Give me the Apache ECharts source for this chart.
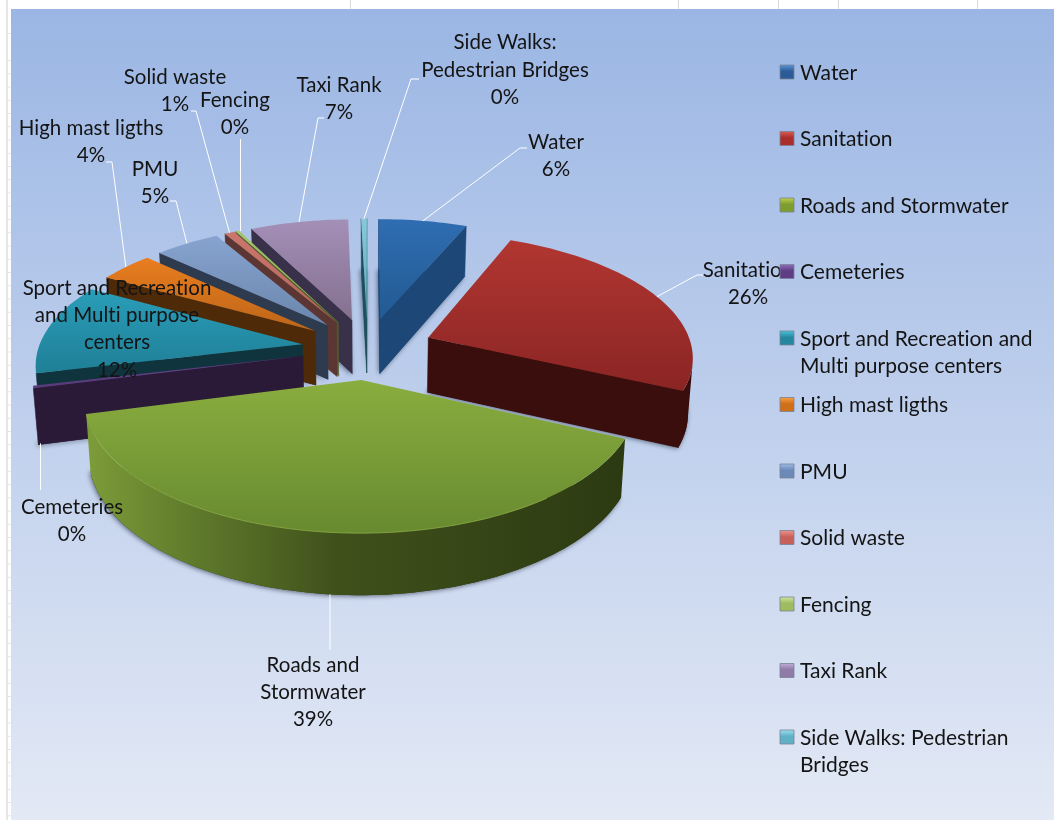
<!DOCTYPE html>
<html>
<head>
<meta charset="utf-8">
<style>html,body{margin:0;padding:0;background:#fff}#chart{width:1054px;height:820px}</style>
<script src="https://cdn.jsdelivr.net/npm/echarts@6/dist/echarts.min.js"></script>
</head>
<body>
<div id="chart"></div>
<script>
// Budget shares per service category
const categories = ['Water','Sanitation','Roads and Stormwater','Cemeteries','Sport and Recreation and Multi purpose centers','High mast ligths','PMU','Solid waste','Fencing','Taxi Rank','Side Walks: Pedestrian Bridges'];
const shares = [6.3,25.6,39.0,0.3,11.8,3.9,4.65,0.7,0.25,7.0,0.4];

// Wrapped text for the data labels and the legend entries
const labelLines = [['Water'],['Sanitation'],['Roads and','Stormwater'],['Cemeteries'],['Sport and Recreation','and Multi purpose','centers'],['High mast ligths'],['PMU'],['Solid waste'],['Fencing'],['Taxi Rank'],['Side Walks:','Pedestrian Bridges']];
const legendLines = [['Water'],['Sanitation'],['Roads and Stormwater'],['Cemeteries'],['Sport and Recreation and','Multi purpose centers'],['High mast ligths'],['PMU'],['Solid waste'],['Fencing'],['Taxi Rank'],['Side Walks: Pedestrian','Bridges']];

// Slices are painted from the back of the pie to the front
const paintOrder = [0,10,9,8,7,6,5,4,3,1,2];

// Face colours: top gradient start/end, cut face, outer wall stops
const topFrom  = ['#2f6db2','#b13631','#8aad3f','#65438a','#2a9db9','#e97e1f','#87a4d1','#cc776e','#a6c46a','#a48fb7','#86c9da'];
const topTo    = ['#225a92','#8a2524','#688a30','#5a3a7a','#1f7f96','#bd6519','#6a86ab','#b5635b','#8aa850','#84708f','#5fa9bd'];
const cutFace  = ['#1c4777','#3a0e0c','#2f3d13','#2a1a37','#0f343e','#4e2a09','#2e3b4e','#5b3632','#4e5e2c','#39314a','#1f4f5c'];
const wallFrom = ['#22527f','#3c0f0c','#7d9c39','#2a1a37','#0f343e','#4e2a09','#2e3b4e','#5b3632','#4e5e2c','#39314a','#1f4f5c'];
const wallTo   = ['#1d4a78','#360c0a','#2c3a12','#2a1a37','#0f343e','#4e2a09','#2e3b4e','#5b3632','#4e5e2c','#39314a','#1f4f5c'];
const swatchFrom = ['#5a94d4','#dc5a54','#bdd048','#8e6cba','#48c2dc','#f8a040','#9cbae4','#ec938a','#cfe4a0','#c0acd6','#9cdeec'];
const swatchTo   = ['#2c5c98','#a82f2c','#7e9d30','#5f3d85','#2688a0','#d06f1a','#6c8ab8','#c8605a','#a0bc60','#8f7aa8','#60b0c8'];

// Hand-placed label layout: centre x, first line y, elbow point and tail of the leader
const labelLayout = [
  {x:556,y:142,elbow:[520,148],tail:[527,148]},
  {x:748,y:270,elbow:[697,275],tail:[703,275]},
  {x:313,y:665,elbow:[330,650],base:true},
  {x:72, y:507,elbow:[40.5,490],base:true},
  {x:117,y:288},
  {x:91, y:128,elbow:[112,162],tail:[106,162]},
  {x:155,y:169,elbow:[176,201],tail:[170,201]},
  {x:175,y:77, elbow:[196,111],tail:[191,111]},
  {x:235,y:100,elbow:[240.5,139]},
  {x:339,y:85, elbow:[318,118],tail:[324,118]},
  {x:505,y:42.5,elbow:[411,79],tail:[419,79]}
];

// Lato joins "ti" into a ligature; a hair of tracking keeps the letters apart
const plainFillText = CanvasRenderingContext2D.prototype.fillText;
CanvasRenderingContext2D.prototype.fillText = function (text, x, y, maxWidth) {
  this.letterSpacing = '0.01px';
  return maxWidth === undefined ? plainFillText.call(this, text, x, y) : plainFillText.call(this, text, x, y, maxWidth);
};

// Perspective model of the pie: plane coordinates (X right, Y toward the viewer), depth 0..1
const view = {cx:367.5, cy:348.5, rx:264, ry:122, persp:0.14, explode:0.25, depth:55, taper:0.015};
const toRad = Math.PI/180;
function project(X, Y, Z) {
  const w = 1 - view.persp*Y;
  const s = 1 - view.taper*Z;
  return [view.cx + view.rx*X/w*s, view.cy + view.ry*Y/w + Z*view.depth*(1 + 0.6*(1/w - 1))];
}

const total = shares.reduce((a,b)=>a+b,0);
let running = 0;
const slices = shares.map(v => {
  const start = running/total*360; running += v;
  const end = running/total*360;
  const mid = (start+end)/2;
  return {start, end, mid, ox:view.explode*Math.sin(mid*toRad), oy:-view.explode*Math.cos(mid*toRad)};
});
function rimPoint(s, deg, Z) {
  return project(s.ox + Math.sin(deg*toRad), s.oy - Math.cos(deg*toRad), Z);
}
function apexPoint(s, Z) { return project(s.ox, s.oy, Z); }
function arc(s, Z, from, to) {
  const pts = [], n = Math.max(2, Math.ceil(Math.abs(to-from)/1.5));
  for (let k=0;k<=n;k++) pts.push(rimPoint(s, from+(to-from)*k/n, Z));
  return pts;
}
function signedArea(p) {
  let a = 0;
  for (let i=0;i<p.length;i++){const q=p[(i+1)%p.length]; a += p[i][0]*q[1]-q[0]*p[i][1];}
  return a/2;
}
function linear(x0,y0,x1,y1,stops){
  return {type:'linear',x:x0,y:y0,x2:x1,y2:y1,global:true,colorStops:stops};
}

// Paints one slice: soft floor shadow, visible cut faces, outer wall, top
function renderSlice(params) {
  const i = paintOrder[params.dataIndex];
  const s = slices[i];
  const kids = [];
  const A0 = apexPoint(s,0), A1 = apexPoint(s,1);
  const S0 = rimPoint(s,s.start,0), S1 = rimPoint(s,s.start,1);
  const E0 = rimPoint(s,s.end,0), E1 = rimPoint(s,s.end,1);

  // floor outline carries the shadow that shows in the gaps between slices
  kids.push({type:'polygon',shape:{points:[A1].concat(arc(s,1,s.start,s.end))},
    style:{fill:cutFace[i],shadowBlur:5,shadowColor:'rgba(50,60,80,0.75)',shadowOffsetX:-1,shadowOffsetY:1}});

  // cut faces that look toward the viewer
  [[A0,S0,S1,A1],[E0,A0,A1,E1]].forEach(q => {
    if (signedArea(q) < 0) kids.push({type:'polygon',shape:{points:q},style:{fill:cutFace[i],stroke:cutFace[i],lineWidth:0.5}});
  });

  // outer wall: only the run of the arc that faces front
  let run = [];
  const step = Math.max(0.5,(s.end-s.start)/120);
  for (let d=s.start; d<s.end; d+=step) {
    const e = Math.min(d+step,s.end);
    const q = [rimPoint(s,d,0),rimPoint(s,e,0),rimPoint(s,e,1),rimPoint(s,d,1)];
    if (signedArea(q) < 0) { if(!run.length) run=[d,e]; else run[1]=e; }
  }
  if (run.length) {
    const pts = arc(s,0,run[0],run[1]).concat(arc(s,1,run[1],run[0]));
    const x0 = Math.min.apply(null,pts.map(p=>p[0])), x1 = Math.max.apply(null,pts.map(p=>p[0]));
    const stops = i===2
      ? [{offset:0,color:wallTo[i]},{offset:0.53,color:'#3f501b'},{offset:0.8,color:'#5f7a2b'},{offset:1,color:wallFrom[i]}]
      : [{offset:0,color:wallFrom[i]},{offset:1,color:wallTo[i]}];
    // the long wall runs from dark on the right to light on the left
    const grad = i===2 ? linear(x1,0,x0,0,stops) : linear(x0,0,x1,0,stops);
    kids.push({type:'polygon',shape:{points:pts},style:{fill:grad}});
  }

  // top face with a vertical sheen
  const top = [A0].concat(arc(s,0,s.start,s.end));
  const ys = top.map(p=>p[1]);
  kids.push({type:'polygon',shape:{points:top},style:{
    fill:linear(0,Math.min.apply(null,ys),0,Math.max.apply(null,ys),[{offset:0,color:topFrom[i]},{offset:1,color:topTo[i]}])}});
  if (i===2) kids.push({type:'polyline',shape:{points:arc(s,0,s.start+28,s.end)},style:{fill:null,stroke:'rgba(148,183,76,0.7)',lineWidth:1}});
  return {type:'group',children:kids};
}

// Leader lines and wrapped data labels, percent computed from the share
function renderLabel(params) {
  const i = params.dataIndex, s = slices[i], L = labelLayout[i], kids = [];
  if (L.elbow) {
    const from = rimPoint(s, s.mid, L.base ? 1 : 0);
    const pts = [L.base ? [L.elbow[0], from[1]] : from, L.elbow];
    if (L.tail) pts.push(L.tail);
    if (i===8) pts[0] = [L.elbow[0], from[1]];
    kids.push({type:'polyline',shape:{points:pts},style:{fill:null,stroke:'#ffffff',lineWidth:1}});
  }
  const lines = labelLines[i].concat([Math.round(shares[i]/total*100)+'%']);
  lines.forEach((t,k) => kids.push({type:'text',style:{text:t,x:L.x,y:L.y+k*27.4,align:'center',verticalAlign:'middle',
    fill:'#141414',font:'20.5px Lato'}}));
  return {type:'group',children:kids};
}

// Legend column: bevelled swatch plus wrapped entry text
const legendX = 780, legendTop = 72, legendStep = 66.5;
function renderLegend(params) {
  const i = params.dataIndex, y = legendTop + i*legendStep, kids = [];
  kids.push({type:'rect',shape:{x:legendX,y:y-7,width:14,height:14},style:{
    fill:linear(0,y-7,0,y+7,[{offset:0,color:swatchFrom[i]},{offset:0.45,color:swatchTo[i]},{offset:1,color:swatchTo[i]}]),
    stroke:'rgba(120,130,150,0.8)',lineWidth:1}});
  legendLines[i].forEach((t,k) => kids.push({type:'text',style:{text:t,x:800,y:y+0.8+k*27.4,align:'left',verticalAlign:'middle',
    fill:'#141414',font:'21px Lato'}}));
  return {type:'group',children:kids};
}

// Sheet gridlines around the chart frame
const sheetColumns = [350,678,778,838,977];
const sheetRows = [33];
for (let r=60;r<820;r+=13.25) sheetRows.push(r);
const sheet = [];
sheetColumns.forEach(x => sheet.push({type:'rect',shape:{x:x,y:0,width:1,height:9},style:{fill:'#d9d9d9'}}));
sheet.push({type:'rect',shape:{x:6,y:0,width:2,height:820},style:{fill:'#e6e6e6'}});
sheetRows.forEach(y => sheet.push({type:'rect',shape:{x:8,y:y,width:3,height:1},style:{fill:'#e6e6e6'}}));
sheet.push({type:'rect',shape:{x:11,y:9,width:1043,height:811},style:{
  fill:new echarts.graphic.LinearGradient(0,0,0,1,[{offset:0,color:'#9bb6e4'},{offset:1,color:'#e3e9f5'}])}});

const chart = echarts.init(document.getElementById('chart'),null,{renderer:'canvas'});
chart.setOption({
  animation:false,
  graphic:{elements:sheet.map(e=>Object.assign({silent:true,z:-10},e))},
  xAxis:{show:false},yAxis:{show:false},
  series:[
    {type:'custom',name:'slices',coordinateSystem:'none',silent:true,z:2,renderItem:renderSlice,data:paintOrder.map(i=>[i,shares[i]])},
    {type:'custom',name:'labels',coordinateSystem:'none',silent:true,z:3,renderItem:renderLabel,data:shares.map((v,i)=>[i,v])},
    {type:'custom',name:'legend',coordinateSystem:'none',silent:true,z:4,renderItem:renderLegend,data:categories.map((c,i)=>[i,c])}
  ]
});
</script>
</body>
</html>
